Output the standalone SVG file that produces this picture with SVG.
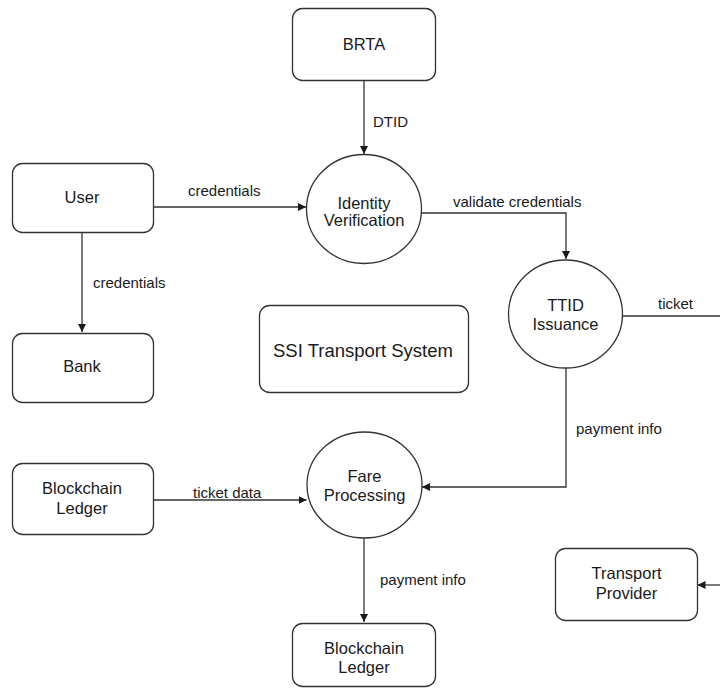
<svg xmlns="http://www.w3.org/2000/svg" width="720" height="688" viewBox="0 0 720 688">
  <style>
    .box { fill: #ffffff; stroke: #333333; stroke-width: 1.3; }
    .proc { fill: #ffffff; stroke: #333333; stroke-width: 1.3; }
    .flow { fill: none; stroke: #333333; stroke-width: 1.3; }
    .label { font-family: "Liberation Sans", Arial, sans-serif; font-size: 16.5px; fill: #1a1a1a; text-anchor: middle; }
    .flowtext { font-family: "Liberation Sans", Arial, sans-serif; font-size: 15px; fill: #1a1a1a; }
    .title { font-family: "Liberation Sans", Arial, sans-serif; font-size: 18.5px; fill: #1a1a1a; text-anchor: middle; }
  </style>
  <defs>
    <marker id="arrow" viewBox="0 0 10 10" refX="10" refY="5" markerWidth="8" markerHeight="8" markerUnits="userSpaceOnUse" orient="auto">
      <path d="M0,0 L10,5 L0,10 z" fill="#1a1a1a"/>
    </marker>
  </defs>
  <rect width="720" height="688" fill="#ffffff"/>

  <!-- connectors -->
  <g id="connectors">
    <line class="flow" x1="364" y1="80" x2="364" y2="154" marker-end="url(#arrow)"/>
    <text class="flowtext" x="373" y="127">DTID</text>

    <line class="flow" x1="153" y1="207" x2="306" y2="207" marker-end="url(#arrow)"/>
    <text class="flowtext" x="188" y="196">credentials</text>

    <line class="flow" x1="82" y1="232" x2="82" y2="332" marker-end="url(#arrow)"/>
    <text class="flowtext" x="93" y="288">credentials</text>

    <polyline class="flow" points="421.5,213 566,213 566,259" marker-end="url(#arrow)"/>
    <text class="flowtext" x="453" y="207">validate credentials</text>

    <line class="flow" x1="622.5" y1="316" x2="720" y2="316"/>
    <text class="flowtext" x="658" y="309">ticket</text>

    <polyline class="flow" points="566,368 566,487 422,487" marker-end="url(#arrow)"/>
    <text class="flowtext" x="576" y="434">payment info</text>

    <line class="flow" x1="153" y1="500" x2="306.5" y2="500" marker-end="url(#arrow)"/>
    <text class="flowtext" x="193" y="498">ticket data</text>

    <line class="flow" x1="364" y1="538" x2="364" y2="622" marker-end="url(#arrow)"/>
    <text class="flowtext" x="380" y="585">payment info</text>

    <line class="flow" x1="720" y1="585" x2="697.5" y2="585" marker-end="url(#arrow)"/>
  </g>

  <!-- external entities and processes -->
  <g id="brta">
    <rect class="box" x="292.5" y="8.5" width="143" height="72" rx="10"/>
    <text class="label" x="364" y="50">BRTA</text>
  </g>

  <g id="user">
    <rect class="box" x="12.5" y="163.5" width="141" height="69" rx="10"/>
    <text class="label" x="82" y="203">User</text>
  </g>

  <g id="bank">
    <rect class="box" x="12.5" y="333.5" width="141" height="69" rx="10"/>
    <text class="label" x="82" y="372">Bank</text>
  </g>

  <g id="identity-verification">
    <ellipse class="proc" cx="364" cy="209" rx="57.5" ry="54.5"/>
    <text class="label" x="364" y="209">Identity</text>
    <text class="label" x="364" y="226">Verification</text>
  </g>

  <g id="ttid-issuance">
    <ellipse class="proc" cx="565.5" cy="314" rx="57" ry="54"/>
    <text class="label" x="565.5" y="311">TTID</text>
    <text class="label" x="565.5" y="330">Issuance</text>
  </g>

  <g id="ssi-transport-system">
    <rect class="box" x="259.5" y="305.5" width="209" height="87" rx="10"/>
    <text class="title" x="363" y="357">SSI Transport System</text>
  </g>

  <g id="fare-processing">
    <ellipse class="proc" cx="364.5" cy="485" rx="57.5" ry="53"/>
    <text class="label" x="364.5" y="482">Fare</text>
    <text class="label" x="364.5" y="501">Processing</text>
  </g>

  <g id="blockchain-ledger-source">
    <rect class="box" x="12.5" y="463.5" width="141" height="71" rx="10"/>
    <text class="label" x="82" y="494">Blockchain</text>
    <text class="label" x="82" y="514">Ledger</text>
  </g>

  <g id="blockchain-ledger-sink">
    <rect class="box" x="292.5" y="623.5" width="143" height="63" rx="10"/>
    <text class="label" x="364" y="654">Blockchain</text>
    <text class="label" x="364" y="673">Ledger</text>
  </g>

  <g id="transport-provider">
    <rect class="box" x="555.5" y="548.5" width="142" height="72" rx="10"/>
    <text class="label" x="626.5" y="579">Transport</text>
    <text class="label" x="626.5" y="599">Provider</text>
  </g>
</svg>
